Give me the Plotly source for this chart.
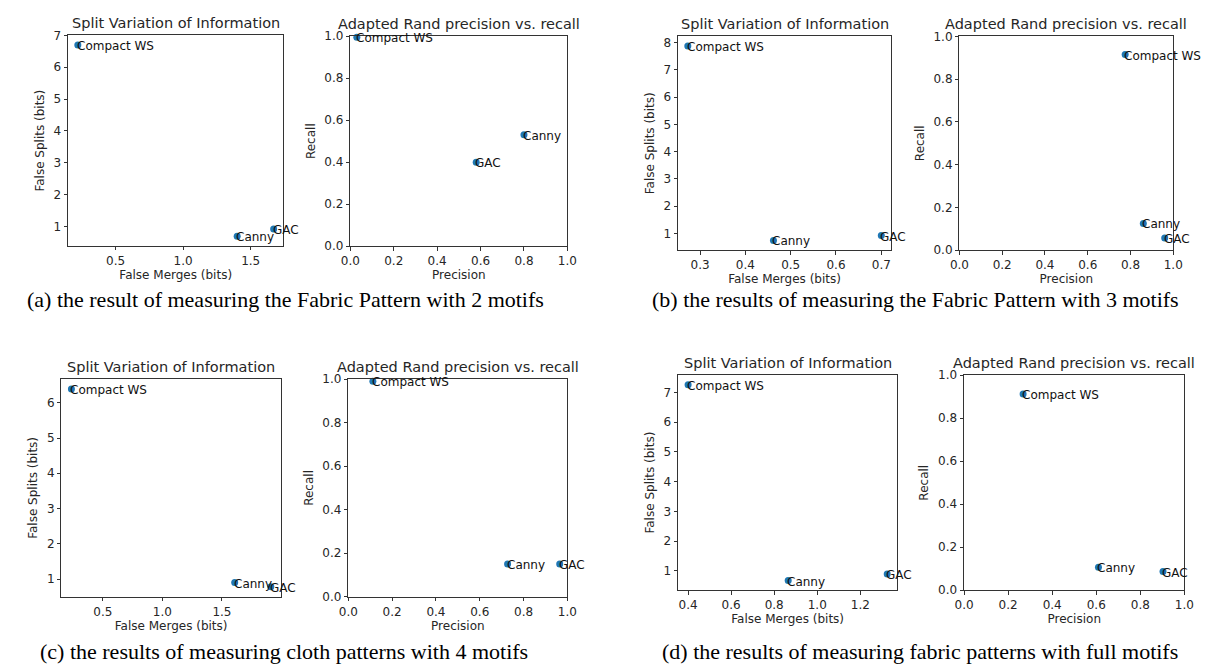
import plotly.graph_objects as go

W, H = 1217, 672

methods = ["Compact WS", "Canny", "GAC"]

# (a) Fabric pattern, 2 motifs
a_merges = [0.22, 1.40, 1.67]
a_splits = [6.70, 0.69, 0.92]
a_prec = [0.03, 0.80, 0.58]
a_rec = [0.995, 0.53, 0.40]

# (b) Fabric pattern, 3 motifs
b_merges = [0.273, 0.462, 0.700]
b_splits = [7.87, 0.74, 0.92]
b_prec = [0.775, 0.86, 0.96]
b_rec = [0.915, 0.125, 0.057]

# (c) Cloth patterns, 4 motifs
c_merges = [0.236, 1.607, 1.91]
c_splits = [6.39, 0.90, 0.78]
c_prec = [0.112, 0.727, 0.965]
c_rec = [0.99, 0.15, 0.15]

# (d) Fabric patterns, full motifs
d_merges = [0.40, 0.865, 1.325]
d_splits = [7.26, 0.68, 0.90]
d_prec = [0.268, 0.61, 0.903]
d_rec = [0.912, 0.107, 0.087]

captions = [
    "(a) the result of measuring the Fabric Pattern with 2 motifs",
    "(b) the results of measuring the Fabric Pattern with 3 motifs",
    "(c) the results of measuring cloth patterns with 4 motifs",
    "(d) the results of measuring fabric patterns with full motifs",
]

BLUE = "#1f77b4"
FONT = "DejaVu Sans"
TXT = "#262626"

# panel boxes in pixels: (x0, x1, y0, y1) (y from top)
boxes = [
    (59, 278, 29, 244),
    (346, 566.7, 29.7, 244.3),
    (679.3, 895.7, 30, 248.3),
    (965.3, 1182.7, 30, 248.3),
    (52.3, 275.3, 380, 602.3),
    (344, 566.7, 380, 602.3),
    (679.3, 902, 375.7, 595.7),
    (970, 1194, 376, 595.7),
]

panels = [
    ("svi", a_merges, a_splits, 0.5, 1),
    ("rand", a_prec, a_rec, 0.2, 0.2),
    ("svi", b_merges, b_splits, 0.1, 1),
    ("rand", b_prec, b_rec, 0.2, 0.2),
    ("svi", c_merges, c_splits, 0.5, 1),
    ("rand", c_prec, c_rec, 0.2, 0.2),
    ("svi", d_merges, d_splits, 0.2, 1),
    ("rand", d_prec, d_rec, 0.2, 0.2),
]


def pad(vals):
    lo, hi = min(vals), max(vals)
    m = (hi - lo) * 0.05
    return [lo - m, hi + m]


fig = go.Figure()
annotations = []

for i, ((kind, xs, ys, dx, dy), (x0, x1, y0, y1)) in enumerate(zip(panels, boxes)):
    n = i + 1
    xa = "x" if n == 1 else f"x{n}"
    ya = "y" if n == 1 else f"y{n}"
    fig.add_trace(go.Scatter(
        x=xs, y=ys, mode="markers", xaxis=xa, yaxis=ya,
        marker=dict(color=BLUE, size=7, line=dict(width=0)),
        showlegend=False, cliponaxis=False, hoverinfo="skip",
    ))
    if kind == "svi":
        xr, yr = pad(xs), pad(ys)
        title = "Split Variation of Information"
        xt, yt = "False Merges (bits)", "False Splits (bits)"
        xfmt = ".1f"
        yfmt = "d"
    else:
        xr, yr = [0, 1], [0, 1]
        title = "Adapted Rand precision vs. recall"
        xt, yt = "Precision", "Recall"
        xfmt = ".1f"
        yfmt = ".1f"
    axcommon = dict(
        showline=True, mirror=True, linecolor="#333", linewidth=1,
        ticks="outside", ticklen=3.5, tickwidth=1, tickcolor="#333",
        showgrid=False, zeroline=False,
        tickfont=dict(family=FONT, size=12, color=TXT),
    )
    fig.layout[f"xaxis{'' if n == 1 else n}"] = dict(
        axcommon, domain=[x0 / W, x1 / W], anchor=ya, range=xr,
        dtick=dx, tick0=0, tickformat=xfmt,
        title=dict(text=xt, font=dict(family=FONT, size=12, color=TXT), standoff=3),
    )
    fig.layout[f"yaxis{'' if n == 1 else n}"] = dict(
        axcommon, domain=[1 - y1 / H, 1 - y0 / H], anchor=xa, range=yr,
        dtick=dy, tick0=0, tickformat=yfmt,
        title=dict(text=yt, font=dict(family=FONT, size=12, color=TXT), standoff=6),
    )
    # subplot title
    annotations.append(dict(
        x=(x0 + x1) / 2 / W, y=1 - (y0 - 2) / H, xref="paper", yref="paper",
        text=title, showarrow=False, xanchor="center", yanchor="bottom",
        font=dict(family=FONT, size=14.5, color=TXT),
    ))
    # point labels
    for m, xv, yv in zip(methods, xs, ys):
        annotations.append(dict(
            x=xv, y=yv, xref=xa, yref=ya, text=m, showarrow=False,
            xanchor="left", yanchor="middle", xshift=-3, yshift=-1,
            font=dict(family=FONT, size=12, color="#111"),
        ))

cap_pos = [(280, 299), (921, 299), (279, 658), (925, 658)]
for cap, (cx, cy) in zip(captions, cap_pos):
    annotations.append(dict(
        x=cx / W, y=1 - cy / H, xref="paper", yref="paper", text=cap,
        showarrow=False, xanchor="center", yanchor="middle",
        font=dict(family="Liberation Serif", size=22, color="#000"),
    ))

fig.update_layout(
    width=W, height=H, margin=dict(l=0, r=0, t=0, b=0),
    paper_bgcolor="white", plot_bgcolor="white",
    annotations=annotations,
)

fig.write_html(
    "out.html",
    config={"displayModeBar": False},
    post_script="document.body.style.margin='0px';",
)
